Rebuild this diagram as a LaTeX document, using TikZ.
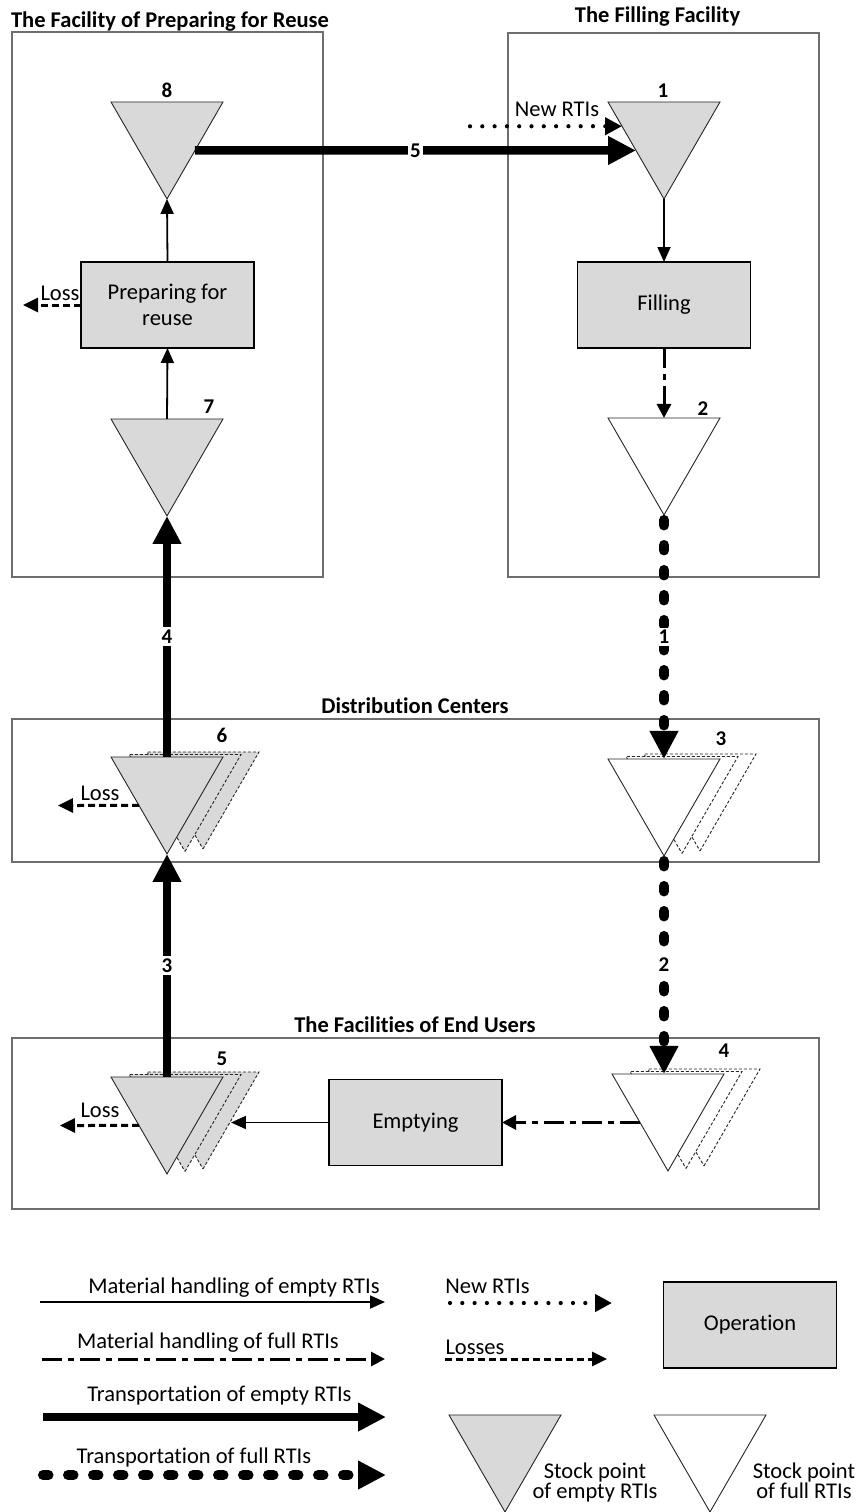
\documentclass[tikz,border=0pt]{standalone}
\usepackage{fontspec}
\setmainfont{Carlito}[Ligatures=NoCommon]
\usetikzlibrary{arrows.meta,shapes.geometric,calc}

\definecolor{opfill}{HTML}{D9D9D9}
\definecolor{framegray}{HTML}{6E6E6E}

\begin{document}
\begin{tikzpicture}[x=1pt,y=-1pt,
  every node/.style={inner sep=0pt, outer sep=0pt},
  txt/.style={font=\fontsize{22.5}{26}\selectfont, anchor=base},
  title/.style={font=\bfseries\fontsize{22.5}{26}\selectfont, anchor=base},
  num/.style={font=\bfseries\fontsize{21}{24}\selectfont, anchor=base},
  arrowlabel/.style={font=\bfseries\fontsize{21}{24}\selectfont, fill=white, inner sep=2.5pt, anchor=center},
  frame/.style={draw=framegray, line width=1.3pt},
  operation/.style={draw=black, line width=1.5pt, fill=opfill, minimum width=173pt,
    minimum height=86pt, align=center, font=\fontsize{22.5}{26}\selectfont},
  stockE/.style={regular polygon, regular polygon sides=3, shape border rotate=180,
    minimum size=129.3pt, draw=black!85, line width=0.9pt, fill=opfill},
  stockF/.style={stockE, fill=white},
  stockcopy/.style={dash pattern=on 3pt off 2pt},
  handleE/.style={line width=1.8pt, -{Triangle[length=15pt,width=13pt]}},
  handleF/.style={line width=3pt, dash pattern=on 20pt off 6pt on 6pt off 6pt,
    -{Triangle[length=14pt,width=14pt]}},
  transE/.style={line width=8.5pt, -{Triangle[length=28pt,width=27pt]}},
  transF/.style={line width=10pt, line cap=round, dash pattern=on 5.5pt off 19.5pt,
    -{Triangle[length=28pt,width=27pt]}},
  newrti/.style={line width=4.2pt, line cap=round, dash pattern=on 0pt off 12.3pt,
    -{Triangle[length=17pt,width=17pt]}},
  loss/.style={line width=3pt, dash pattern=on 7pt off 4pt,
    -{Triangle[length=15pt,width=14pt]}}
]
\useasboundingbox (0,0) rectangle (861,1512);

% ---------- facility frames and titles ----------
\draw[frame] (12,32) rectangle (323,577);
\draw[frame] (508,33) rectangle (819,577);
\draw[frame] (12,719) rectangle (819,862);
\draw[frame] (12,1038) rectangle (819,1209);

\node[title] (tprep) at (170,28) {The Facility of Preparing for Reuse};
\node[title] (tfill) at (657.5,22.5) {The Filling Facility};
\node[title] (tdc) at (415,713) {Distribution Centers};
\node[title] (teu) at (415,1032) {The Facilities of End Users};

% ---------- operations ----------
\node[operation] (prep) at (167.5,305) {Preparing for\\reuse};
\node[operation] (fill) at (664,305) {Filling};
\node[operation] (empty) at (415.5,1122.5) {Emptying};

% ---------- stock points ----------
\node[stockE] (t8) at (167,134.3) {};
\node[stockE] (t7) at (167,451.3) {};
\node[stockE] (t1) at (664,134.3) {};
\node[stockF] (t2) at (664,450.3) {};

% several stock points (stacked copies behind)
\node[stockF, stockcopy] (t3s2) at (700,786.3) {};
\node[stockF, stockcopy] (t3s1) at (682,788.8) {};
\node[stockF] (t3) at (664,791.3) {};

\node[stockE, stockcopy] (t6s2) at (203,784.3) {};
\node[stockE, stockcopy] (t6s1) at (185,786.8) {};
\node[stockE] (t6) at (167,789.3) {};

\node[stockE, stockcopy] (t5s2) at (203,1104.3) {};
\node[stockE, stockcopy] (t5s1) at (185,1106.8) {};
\node[stockE] (t5) at (167,1109.3) {};

\node[stockF, stockcopy] (t4s2) at (704,1101.3) {};
\node[stockF, stockcopy] (t4s1) at (686,1103.8) {};
\node[stockF] (t4) at (668,1106.3) {};

% stock point numbers
\node[num] (n8) at (167,97) {8};
\node[num] (n1) at (663,97) {1};
\node[num] (n7) at (209,413) {7};
\node[num] (n2) at (703,415) {2};
\node[num] (n6) at (222,742) {6};
\node[num] (n3) at (721,745) {3};
\node[num] (n5) at (222,1065) {5};
\node[num] (n4) at (724,1057) {4};

% ---------- flows ----------
\draw[transE] (t8.side 1) -- node[arrowlabel] (l5) {5} (t1.side 3);
\draw[transE] (t6.side 2) -- node[arrowlabel] (l4) {4} (t7.corner 1);
\draw[transE] (t5.side 2) -- node[arrowlabel] (l3) {3} (t6.corner 1);
\draw[transF, shorten <=5pt] (t2.corner 1) -- node[arrowlabel] (l1) {1} (t3.side 2);
\draw[transF, shorten <=5pt] (t3.corner 1) -- node[arrowlabel] (l2) {2} (t3.corner 1 |- t4.side 2);

\draw[handleE] (prep.north) -- (t8.corner 1);
\draw[handleE] (t7.side 2) -- (prep.south);
\draw[handleE] (t1.corner 1) -- (fill.north);
\draw[handleE] (empty.west) -- (empty.west -| t5s2.side 1);

\draw[handleF] (fill.south) -- (t2.side 2);
\draw[handleF] (t4.side 3) -- (t4.side 3 -| empty.east);

\coordinate (newsrc) at (470,126.3);
\draw[newrti] (newsrc) -- ($(t1.corner 3)!0.25!(t1.corner 1)$);
\node[txt] (newt) at (557,116.7) {New RTIs};

% losses
\coordinate (lossP) at (23,305);
\coordinate (lossD) at (58,805.5);
\coordinate (lossE) at (60,1125.5);
\draw[loss] (prep.west) -- (lossP);
\draw[loss] (t6.side 3) -- (lossD);
\draw[loss] (t5.side 3) -- (lossE);
\node[txt] (lossPt) at (60,300) {Loss};
\node[txt] (lossDt) at (100,800) {Loss};
\node[txt] (lossEt) at (100,1117) {Loss};

% ---------- legend ----------
\coordinate (lg1a) at (40,1302);  \coordinate (lg1b) at (385,1302);
\coordinate (lg2a) at (42,1359);  \coordinate (lg2b) at (385,1359);
\coordinate (lg3a) at (43,1417);  \coordinate (lg3b) at (386,1417);
\coordinate (lg4a) at (43,1475);  \coordinate (lg4b) at (386,1475);
\coordinate (lg5a) at (450,1303); \coordinate (lg5b) at (612,1303);
\coordinate (lg6a) at (445,1359); \coordinate (lg6b) at (607,1359);

\draw[handleE] (lg1a) -- (lg1b);
\draw[handleF] (lg2a) -- (lg2b);
\draw[transE] (lg3a) -- (lg3b);
\draw[transF] (lg4a) -- (lg4b);
\draw[newrti] (lg5a) -- (lg5b);
\draw[loss] (lg6a) -- (lg6b);

\node[txt] (lgt1) at (234,1293.3) {Material handling of empty RTIs};
\node[txt] (lgt2) at (208,1348.3) {Material handling of full RTIs};
\node[txt] (lgt3) at (219.5,1401.7) {Transportation of empty RTIs};
\node[txt] (lgt4) at (194,1463.3) {Transportation of full RTIs};
\node[txt] (lgt5) at (487.5,1293.3) {New RTIs};
\node[txt] (lgt6) at (475,1354) {Losses};

\node[operation] (oplg) at (750,1325) {Operation};

\node[stockE] (lgE) at (505,1447.3) {};
\node[stockF] (lgF) at (710,1447.3) {};
\node[txt] (lgEt1) at (595,1478) {Stock point};
\node[txt] (lgEt2) at (595,1498.3) {of empty RTIs};
\node[txt] (lgFt1) at (804,1478) {Stock point};
\node[txt] (lgFt2) at (804,1498.3) {of full RTIs};
\end{tikzpicture}
\end{document}
